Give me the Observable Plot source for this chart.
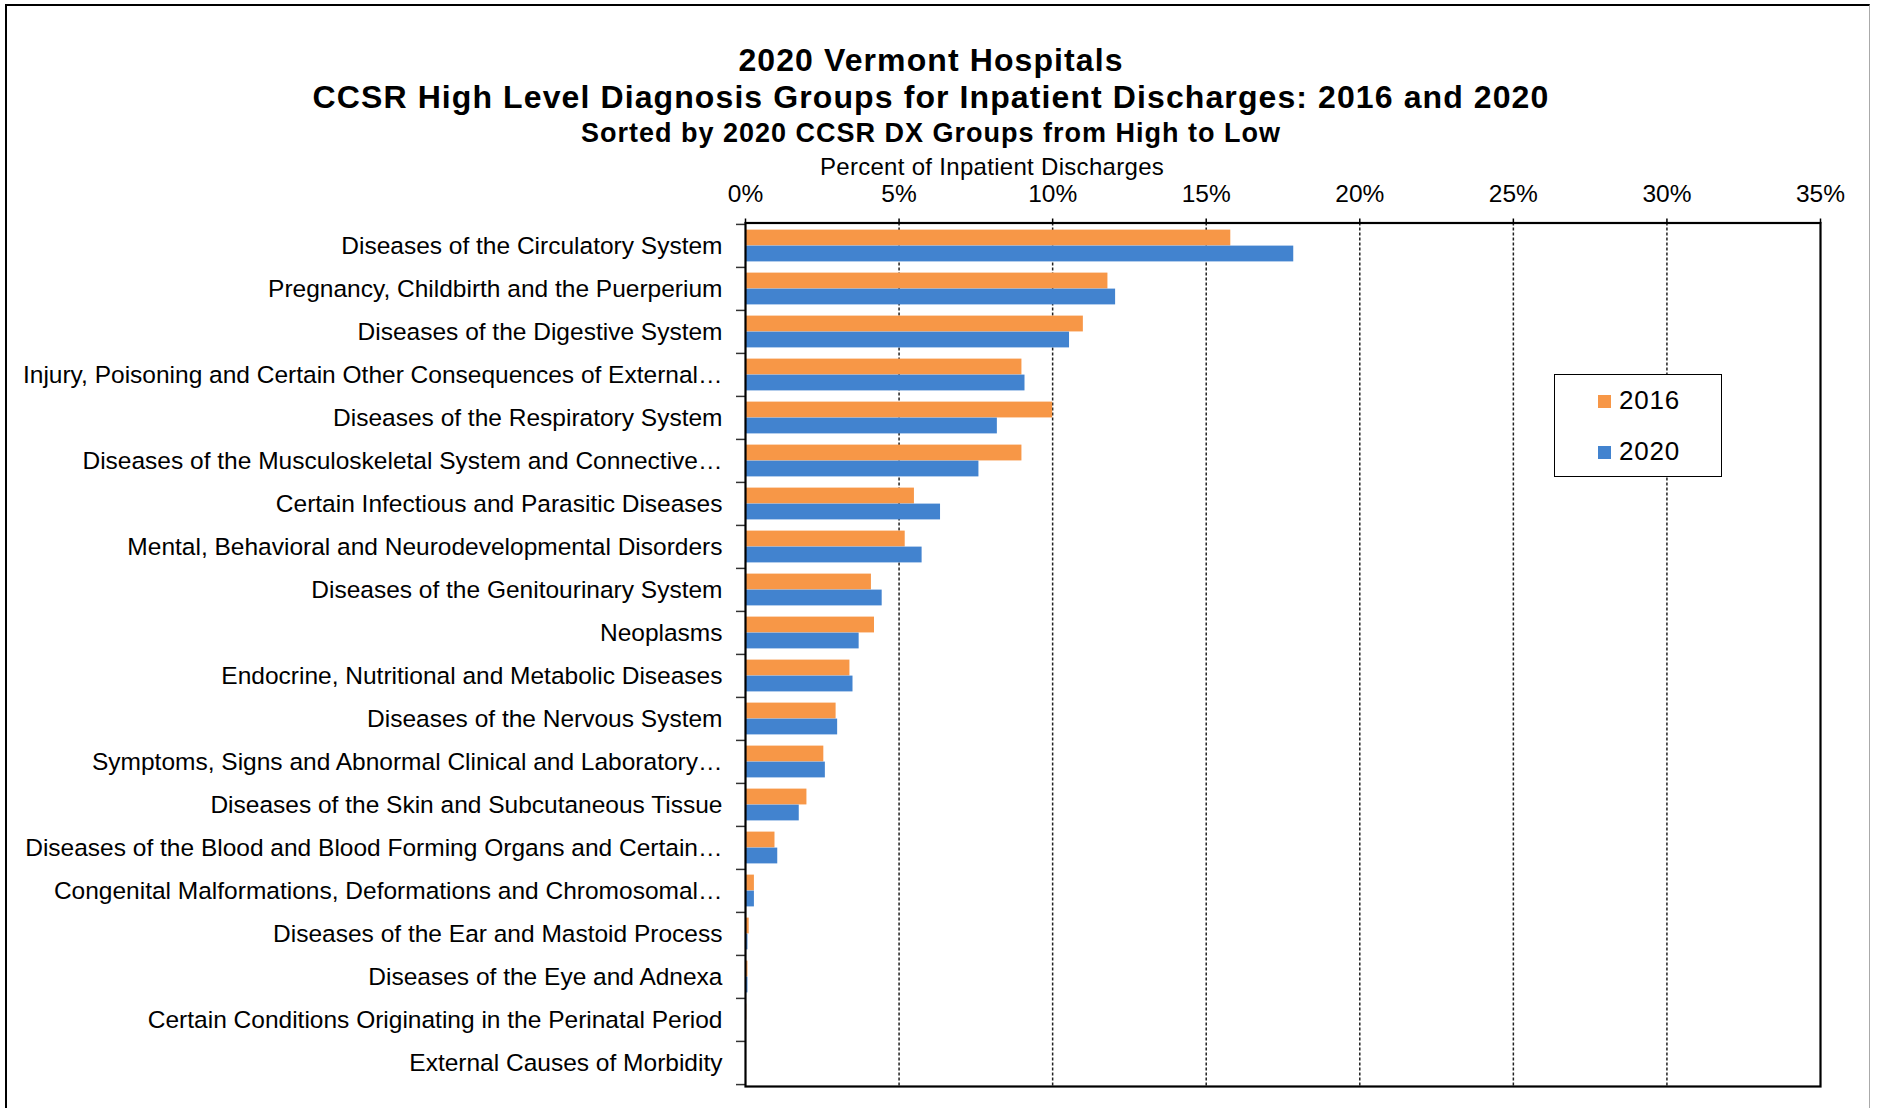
<!DOCTYPE html>
<html>
<head>
<meta charset="utf-8">
<script src="https://cdn.jsdelivr.net/npm/d3@7"></script>
<script src="https://cdn.jsdelivr.net/npm/@observablehq/plot@0.6"></script>
<style>
  html, body { margin: 0; padding: 0; background: #fff; }
  #wrap { position: relative; width: 1877px; height: 1108px; overflow: hidden; background: #fff; font-family: "Liberation Sans", Arial, sans-serif; color: #000; }
  #border { position: absolute; left: 5px; top: 4px; width: 1865px; height: 1120px; border-top: 2px solid #000; border-left: 2px solid #000; border-right: 1px solid #aaa; box-sizing: border-box; }
  .t { position: absolute; left: 0; width: 1862px; text-align: center; font-weight: bold; white-space: nowrap; }
  #t1 { top: 44px; font-size: 32px; line-height: 32px; letter-spacing: 1.1px; }
  #t2 { top: 81px; font-size: 32px; line-height: 32px; letter-spacing: 1.1px; }
  #t3 { top: 120px; font-size: 27px; line-height: 27px; letter-spacing: 1px; }
  #xlab { position: absolute; left: 792px; width: 400px; text-align: center; top: 155px; font-size: 24px; line-height: 24px; letter-spacing: 0.3px; white-space: nowrap; }
  #chart { position: absolute; left: 0; top: 0; }
  #legend { position: absolute; left: 1554px; top: 374px; width: 168px; height: 103px; border: 1.5px solid #000; background: #fff; box-sizing: border-box; }
  .li { position: absolute; left: 43px; font-size: 26px; line-height: 26px; letter-spacing: 0.8px; white-space: nowrap; }
  .sw { display: inline-block; width: 13px; height: 13px; margin-right: 8px; vertical-align: 1px; }
</style>
</head>
<body>
<div id="wrap">
  <div id="border"></div>
  <div id="chart"></div>
  <div class="t" id="t1">2020 Vermont Hospitals</div>
  <div class="t" id="t2">CCSR High Level Diagnosis Groups for Inpatient Discharges: 2016 and 2020</div>
  <div class="t" id="t3">Sorted by 2020 CCSR DX Groups from High to Low</div>
  <div id="xlab">Percent of Inpatient Discharges</div>
  <div id="legend"></div>
</div>
<script>
const categories = [
  "Diseases of the Circulatory System",
  "Pregnancy, Childbirth and the Puerperium",
  "Diseases of the Digestive System",
  "Injury, Poisoning and Certain Other Consequences of External…",
  "Diseases of the Respiratory System",
  "Diseases of the Musculoskeletal System and Connective…",
  "Certain Infectious and Parasitic Diseases",
  "Mental, Behavioral and Neurodevelopmental Disorders",
  "Diseases of the Genitourinary System",
  "Neoplasms",
  "Endocrine, Nutritional and Metabolic Diseases",
  "Diseases of the Nervous System",
  "Symptoms, Signs and Abnormal Clinical and Laboratory…",
  "Diseases of the Skin and Subcutaneous Tissue",
  "Diseases of the Blood and Blood Forming Organs and Certain…",
  "Congenital Malformations, Deformations and Chromosomal…",
  "Diseases of the Ear and Mastoid Process",
  "Diseases of the Eye and Adnexa",
  "Certain Conditions Originating in the Perinatal Period",
  "External Causes of Morbidity"
];
const values2016 = [15.8, 11.8, 11.0, 9.0, 10.0, 9.0, 5.5, 5.2, 4.1, 4.2, 3.4, 2.95, 2.55, 2.0, 0.96, 0.29, 0.12, 0.08, 0.04, 0];
const values2020 = [17.85, 12.05, 10.55, 9.1, 8.2, 7.6, 6.35, 5.75, 4.45, 3.7, 3.5, 3.0, 2.6, 1.75, 1.05, 0.29, 0.08, 0.08, 0, 0];
const seriesNames = ["2016", "2020"];
const seriesColors = ["#F79747", "#4283CF"];
const xTicks = [0, 5, 10, 15, 20, 25, 30, 35];
const gridTicks = [5, 10, 15, 20, 25, 30];

const data16 = categories.map((c, i) => ({category: c, value: values2016[i]}));
const data20 = categories.map((c, i) => ({category: c, value: values2020[i]}));

const H = 1108, mTop = 222.5, mBottom = 22;
const step = (H - mTop - mBottom) / categories.length;

const chart = Plot.plot({
  width: 1877,
  height: H,
  marginLeft: 745,
  marginRight: 57,
  marginTop: mTop,
  marginBottom: mBottom,
  style: {fontFamily: "'Liberation Sans', Arial, sans-serif", fontSize: "24.5px", color: "#000", background: "transparent"},
  x: {domain: [0, 35], ticks: xTicks},
  y: {domain: categories, padding: 0},
  marks: [
    Plot.gridX(gridTicks, {stroke: "#222", strokeOpacity: 1, strokeWidth: 1.5, strokeDasharray: "3,2"}),
    Plot.barX(data16, {x: "value", y: "category", fill: seriesColors[0], insetTop: 5.6, insetBottom: step - 21.6}),
    Plot.barX(data20, {x: "value", y: "category", fill: seriesColors[1], insetTop: 21.6, insetBottom: 5.6}),
    Plot.axisX({anchor: "top", ticks: xTicks, tickFormat: d => d + "%", tickSize: 5, tickPadding: 16, stroke: "#000", strokeWidth: 1.5, fontSize: 24.5, label: null}),
    Plot.axisY({anchor: "left", tickSize: 0, tickPadding: 23, fontSize: 24.5, label: null}),
    Plot.axisY({anchor: "left", tickSize: 9, text: null, label: null, dy: -step / 2, stroke: "#333", strokeWidth: 1.5}),
    Plot.axisY({anchor: "left", ticks: [categories[categories.length - 1]], tickSize: 9, text: null, label: null, dy: step / 2, stroke: "#333", strokeWidth: 1.5}),
    Plot.frame({stroke: "#000", strokeWidth: 2.2})
  ]
});
document.getElementById("chart").appendChild(chart);

const legend = document.getElementById("legend");
seriesNames.forEach((name, i) => {
  const d = document.createElement("div");
  d.className = "li";
  d.style.top = (i === 0 ? 12 : 63) + "px";
  d.innerHTML = `<span class="sw" style="background:${seriesColors[i]}"></span>${name}`;
  legend.appendChild(d);
});
</script>
</body>
</html>
